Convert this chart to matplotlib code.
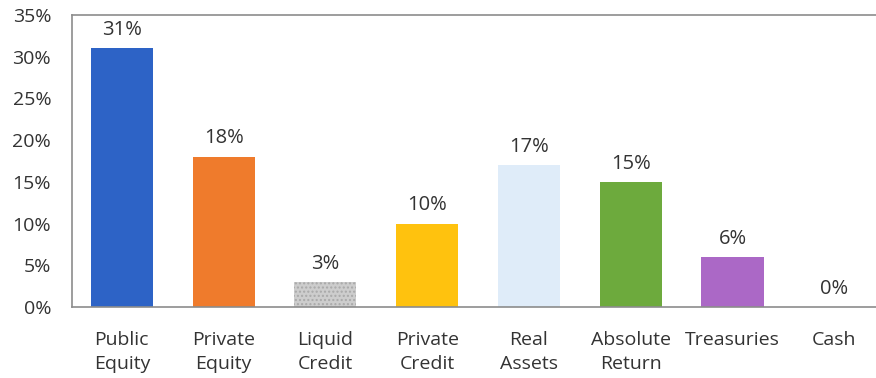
import matplotlib.pyplot as plt
from matplotlib.ticker import FuncFormatter

categories = ["Public\nEquity", "Private\nEquity", "Liquid\nCredit", "Private\nCredit",
              "Real\nAssets", "Absolute\nReturn", "Treasuries", "Cash"]
weights = [31, 18, 3, 10, 17, 15, 6, 0]
colors = ["#2d63c6", "#ef7b2c", "#cdcdcd", "#ffc20e", "#dfecf9", "#6daa3d", "#ab68c6", "#ffffff"]

plt.rcParams['font.family'] = ['Open Sans', 'DejaVu Sans']
plt.rcParams['font.size'] = 14

fig = plt.figure(figsize=(8.76, 3.78), dpi=100)
ax = fig.add_axes([72 / 876, 1 - 307 / 378, 1 - 72 / 876, 292 / 378])

x = range(len(categories))
bars = ax.bar(x, weights, width=0.61, color=colors, zorder=2)
# speckled fill on the liquid credit bar
bars[2].set_hatch('....')
bars[2].set_edgecolor('#a9a9a9')
bars[2].set_linewidth(0)

for i, v in enumerate(weights):
    ax.annotate(f"{v}%", (i, v), xytext=(0, 6), textcoords='offset points',
                ha='center', va='bottom', color='#333333', fontsize=14.5)

ax.set_ylim(0, 35)
ax.set_yticks(range(0, 36, 5))
ax.yaxis.set_major_formatter(FuncFormatter(lambda v, _: f"{v:.0f}%"))
ax.set_xlim(-0.49, 7.41)
ax.set_xticks(list(x))
ax.set_xticklabels(categories, linespacing=1.45)
ax.tick_params(axis='both', length=0, colors='#333333')
ax.tick_params(axis='x', pad=17)
ax.tick_params(axis='y', pad=15)

for side in ['top', 'left', 'bottom']:
    ax.spines[side].set_color('#8c8c8c')
    ax.spines[side].set_linewidth(1.2)
ax.spines['right'].set_visible(False)

fig.savefig("out.png", dpi=100)
